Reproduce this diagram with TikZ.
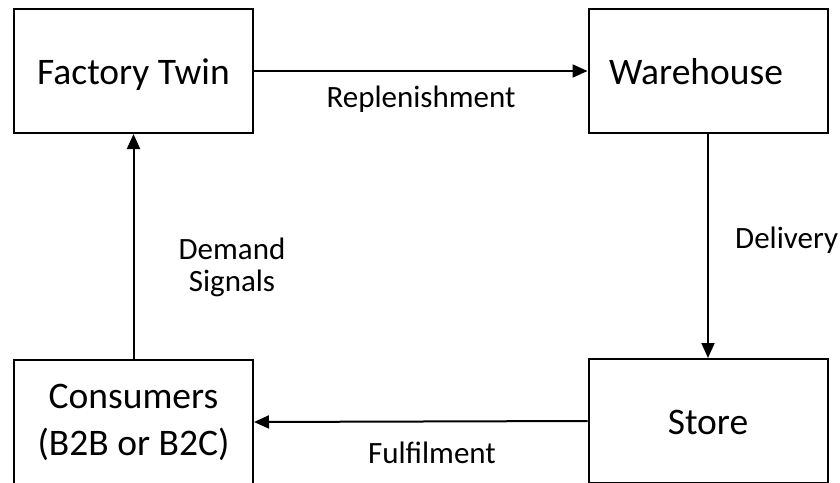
\documentclass[tikz,border=0pt]{standalone}
\usepackage{fontspec}
\setmainfont{Carlito}
\usetikzlibrary{arrows.meta}
\tikzset{
  block/.style={draw, line width=2pt, minimum width=239pt, minimum height=124pt,
    align=center, inner sep=0pt, font=\fontsize{37.5}{47}\selectfont},
  oneline/.style={text height=26pt, text depth=0pt},
  flow/.style={line width=2pt, -{Triangle[length=15pt,width=13pt]}},
  lbl/.style={font=\fontsize{31}{32}\selectfont, align=center, inner sep=0pt, anchor=base}
}
\begin{document}
\begin{tikzpicture}[x=1pt,y=-1pt]
\useasboundingbox (0,0) rectangle (840,482);
\clip (0,0) rectangle (840,482);
% supply-chain loop
\node[block, oneline] (factory) at (133.5,71) {Factory Twin};
\node[block, oneline] (warehouse) at (708,71) {\hspace*{-24pt}Warehouse};
\node[block, oneline] (store) at (708,421) {Store};
\node[block] (consumers) at (133.5,422) {Consumers\\(B2B or B2C)};
% connectors
\draw[flow] (factory.east) -- (warehouse.west);
\draw[flow] (warehouse.south) -- (store.north);
\draw[flow] (store.west) -- (consumers.east);
\draw[flow] (consumers.north) -- (factory.south);
% connector labels
\node[lbl] (lrep) at (421,107) {Replenishment};
\node[lbl, anchor=base west] (ldel) at (735,248) {Delivery};
\node[lbl] (ldem) at (232,259) {Demand};
\node[lbl] (lsig) at (232,291) {Signals};
\node[lbl] (lful) at (432,463) {Fulfilment};
\end{tikzpicture}
\end{document}
